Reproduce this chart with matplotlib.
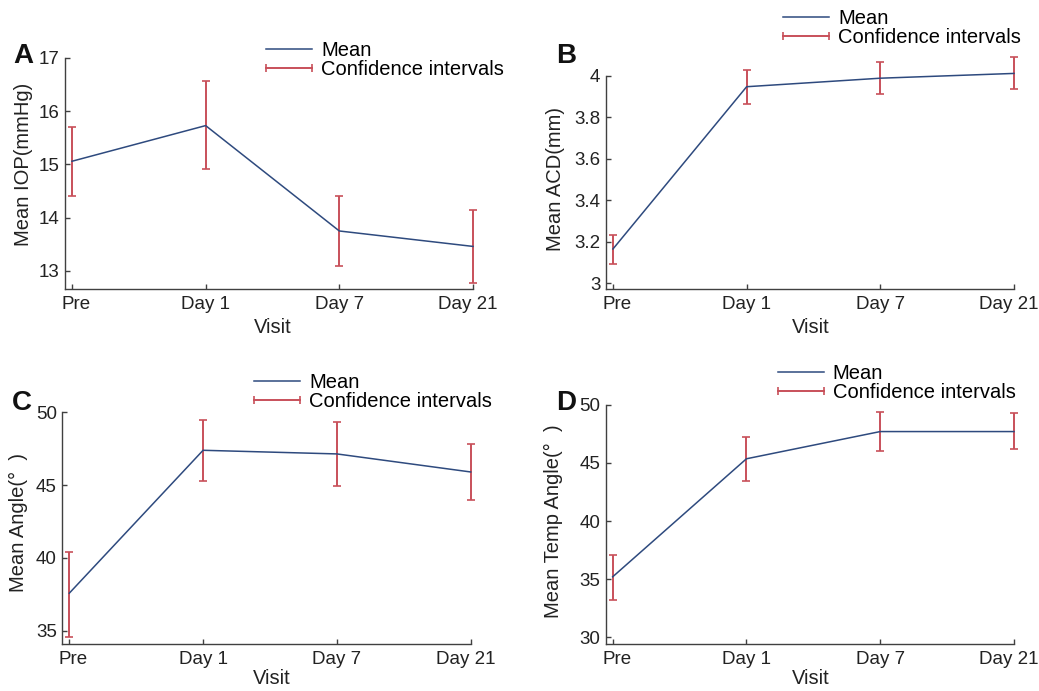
import numpy as np
import matplotlib
matplotlib.use("Agg")
import matplotlib.pyplot as plt
from matplotlib.lines import Line2D
from matplotlib.transforms import ScaledTranslation

plt.rcParams['font.family'] = ['Liberation Sans', 'DejaVu Sans']

VISITS = ["Pre", "Day 1", "Day 7", "Day 21"]

# panel A - IOP
iop_mean = [15.06, 15.73, 13.75, 13.46]
iop_lower = [14.41, 14.92, 13.10, 12.78]
iop_upper = [15.71, 16.56, 14.40, 14.14]

# panel B - ACD
acd_mean = [3.165, 3.946, 3.987, 4.010]
acd_lower = [3.093, 3.862, 3.909, 3.933]
acd_upper = [3.233, 4.027, 4.064, 4.087]

# panel C - angle
ang_mean = [37.57, 47.39, 47.14, 45.90]
ang_lower = [34.59, 45.28, 44.96, 43.98]
ang_upper = [40.43, 49.47, 49.33, 47.83]

# panel D - temporal angle
temp_mean = [35.2, 45.35, 47.69, 47.69]
temp_lower = [33.2, 43.4, 46.05, 46.15]
temp_upper = [37.1, 47.25, 49.35, 49.3]

BLUE = "#2e4a7e"
RED = "#c8505a"
SPINE = "#404040"
TICK_FS = 13.5
LABEL_FS = 14.5

W, H = 1039, 691


def fx(px):
    return px / W


def fy(py):
    return 1 - py / H


def make_panel(fig, rect_px, letter, letter_pos, ylabel, ylabel_pos, xlabel_pos,
               mean, lower, upper, ylim, yticks, yticklabels, legend_pos):
    left, top, right, bottom = rect_px
    ax = fig.add_axes([fx(left), fy(bottom), (right - left) / W, (bottom - top) / H])
    x = np.arange(len(VISITS))
    mean = np.array(mean)
    yerr = [mean - np.array(lower), np.array(upper) - mean]
    ax.errorbar(x, mean, yerr=yerr, fmt='none', ecolor=RED, elinewidth=1.4,
                capsize=3, capthick=1.2, clip_on=False, zorder=2)
    ax.plot(x, mean, color=BLUE, lw=1.1, clip_on=False, zorder=3)

    ax.set_xlim(-0.052, 3)
    ax.set_ylim(*ylim)
    ax.set_xticks(x)
    ax.set_xticklabels(VISITS)
    ax.set_yticks(yticks)
    ax.set_yticklabels(yticklabels)
    for s in ['top', 'right']:
        ax.spines[s].set_visible(False)
    for s in ['left', 'bottom']:
        ax.spines[s].set_color(SPINE)
        ax.spines[s].set_linewidth(1.0)
    ax.tick_params(direction='in', length=3.5, width=1.0, color=SPINE,
                   labelsize=TICK_FS, labelcolor="#222222")
    ax.tick_params(axis='x', pad=5)
    ax.tick_params(axis='y', pad=4)

    # reference labels sit a little off-centre at the ends
    shifts = [4, 0, 0, -5]
    for lab, dx in zip(ax.get_xticklabels(), shifts):
        lab.set_transform(lab.get_transform() + ScaledTranslation(dx / 100, 0, fig.dpi_scale_trans))

    ax.set_ylabel(ylabel, fontsize=LABEL_FS, color="#222222")
    ax.yaxis.set_label_coords(fx(ylabel_pos[0]), fy(ylabel_pos[1]), transform=fig.transFigure)
    ax.set_xlabel("Visit", fontsize=LABEL_FS, color="#222222")
    ax.xaxis.set_label_coords(fx(xlabel_pos[0]), fy(xlabel_pos[1]), transform=fig.transFigure)

    fig.text(fx(letter_pos[0]), fy(letter_pos[1]), letter, fontsize=20,
             fontweight='bold', family=['Liberation Sans Narrow', 'Liberation Sans'],
             ha='left', va='baseline', color="#111111")

    h_mean = Line2D([], [], color=BLUE, lw=1.1)
    h_ci = Line2D([], [], color=RED, lw=1.4, marker='|', markersize=6, markeredgewidth=1.2)
    ax.legend([h_mean, h_ci], ["Mean", "Confidence intervals"], loc='upper left',
              bbox_to_anchor=(fx(legend_pos[0]), fy(legend_pos[1])),
              bbox_transform=fig.transFigure, frameon=False, fontsize=LABEL_FS,
              numpoints=2, handlelength=2.88, handletextpad=0.15,
              borderpad=0, borderaxespad=0, labelspacing=0.0)
    return ax


fig = plt.figure(figsize=(W / 100, H / 100), dpi=100)

make_panel(fig, (65, 58, 473, 289), "A", (13, 63), "Mean IOP(mmHg)", (33, 164), (273, 318),
           iop_mean, iop_lower, iop_upper, (12.66, 17), [13, 14, 15, 16, 17],
           ["13", "14", "15", "16", "17"], (260, 41.2))

make_panel(fig, (606, 75.5, 1014, 289.3), "B", (556, 63), "Mean ACD(mm)", (565, 179), (811, 318),
           acd_mean, acd_lower, acd_upper, (2.971, 4), [3, 3.2, 3.4, 3.6, 3.8, 4],
           ["3", "3.2", "3.4", "3.6", "3.8", "4"], (777, 8.9))

make_panel(fig, (62.3, 412.3, 470.7, 644.3), "C", (12, 410), "Mean Angle(\u00b0  )", (28, 523), (272, 668.5),
           ang_mean, ang_lower, ang_upper, (34.06, 50), [35, 40, 45, 50],
           ["35", "40", "45", "50"], (248, 372.9))

make_panel(fig, (605.7, 404.7, 1014, 643.7), "D", (556, 410), "Mean Temp Angle(\u00b0  )", (563, 521), (811, 668.5),
           temp_mean, temp_lower, temp_upper, (29.45, 50), [30, 35, 40, 45, 50],
           ["30", "35", "40", "45", "50"], (771.7, 364.5))

fig.savefig("out.png", dpi=100)
